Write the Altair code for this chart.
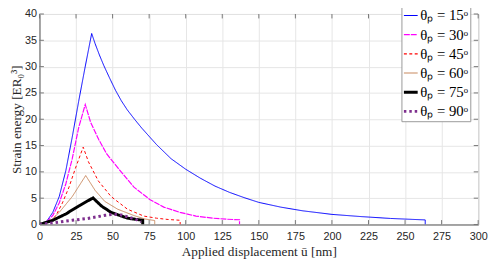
import altair as alt
import pandas as pd

# ---- data ----
x_ticks = list(range(0, 301, 25))
y_ticks = list(range(0, 41, 5))

labels = ["θₚ = 15ᵒ", "θₚ = 30ᵒ", "θₚ = 45ᵒ", "θₚ = 60ᵒ", "θₚ = 75ᵒ", "θₚ = 90ᵒ"]

blue_u = [0, 4.7, 9.1, 13.5, 18, 22.4, 26.8, 31, 35.7, 38, 41, 44, 48, 52, 56, 60, 65, 70, 80, 90, 100, 110, 120,
          130, 140, 150, 165, 180, 200, 220, 240, 255, 263.8, 263.8]
blue_E = [0, 0.5, 2.3, 5.3, 10.2, 16.6, 23.4, 29.6, 36.3, 34.4, 32.2, 30.2, 27.8, 25.5, 23.5, 21.8, 20.0, 18.3,
          15.2, 12.5, 10.5, 8.8, 7.3, 6.1, 5.1, 4.2, 3.3, 2.6, 1.92, 1.5, 1.15, 0.97, 0.87, 0]

mag_u = [0, 4.7, 9.1, 13.5, 18, 22.4, 26.8, 31.3, 35, 40.6, 46, 53.5, 64.6, 75.7, 85, 96.1, 107, 118.3, 128, 136.8, 136.8]
mag_E = [0, 0.5, 1.7, 4.1, 7.7, 12.5, 18.4, 22.8, 19.4, 16.1, 13.4, 10.8, 7.1, 4.7, 3.3, 2.3, 1.6, 1.2, 1.0, 0.9, 0]

red_u = [0, 6.9, 11.3, 15.7, 20.2, 24.6, 29.9, 33.5, 40.2, 49, 60.2, 71.3, 80, 88, 96.2, 96.2]
red_E = [0, 0.5, 1.7, 4.1, 7.1, 10.7, 14.7, 11.9, 8.3, 5.3, 2.9, 1.6, 1.2, 0.95, 0.8, 0]

brown_u = [0, 6.9, 13.5, 22.4, 31.6, 38, 44.6, 53.5, 64.6, 72, 78.8, 78.8]
brown_E = [0, 0.5, 2.3, 5.3, 9.3, 6.5, 4.4, 2.9, 1.7, 1.05, 0.75, 0]

black_u = [0, 9.1, 18, 26.8, 36.6, 42.4, 49, 60.2, 70.6, 70.6]
black_E = [0, 0.8, 2.0, 3.5, 5.05, 3.5, 2.3, 1.2, 0.8, 0]

purple_u = [0, 9.1, 22.4, 33, 40.2, 45, 51, 56, 61, 66, 69.5]
purple_E = [0, 0.3, 0.8, 1.15, 1.5, 1.75, 1.95, 1.8, 1.4, 0.95, 0.5]

# ---- styles ----
colors = ["#0000ff", "#ff00ff", "#ff0000", "#c8895f", "#000000", "#7e2f8e"]
dashes = [[1, 0], [6, 1], [3, 2.5], [1, 0], [1, 0], [2.5, 3]]
widths = [1, 1.2, 1, 1, 3, 3]

series = [(blue_u, blue_E), (mag_u, mag_E), (red_u, red_E),
          (brown_u, brown_E), (black_u, black_E), (purple_u, purple_E)]
rows = []
for lab, w, (us, es) in zip(labels, widths, series):
    for i, (u, e) in enumerate(zip(us, es)):
        rows.append({"u": u, "E": e, "s": lab, "w": w, "i": i})
df = pd.DataFrame(rows)

W, H = 446, 214
axis_col = "#777777"
TL = 4.5

xs = alt.Scale(domain=[0, 300], nice=False)
ys = alt.Scale(domain=[0, 40], nice=False)
x_axis = alt.Axis(values=x_ticks, title="Applied displacement ū [nm]")
y_axis = alt.Axis(values=y_ticks, title="Strain energy [ER₀³]")

width_sig = "indexof(['" + "','".join(labels) + "'], datum.value) >= 4 ? 3 : 1.2"

lines = alt.Chart(df).mark_line(clip=True).encode(
    x=alt.X("u:Q", scale=xs, axis=x_axis),
    y=alt.Y("E:Q", scale=ys, axis=y_axis),
    color=alt.Color("s:N", scale=alt.Scale(domain=labels, range=colors), title=None),
    strokeDash=alt.StrokeDash("s:N", scale=alt.Scale(domain=labels, range=dashes), title=None),
    strokeWidth=alt.StrokeWidth("w:Q", scale=None, legend=None),
    order=alt.Order("i:Q"),
)

xt = pd.DataFrame({"t": x_ticks})
yt = pd.DataFrame({"t": y_ticks})
bt = alt.Chart(xt).mark_rule(color=axis_col, strokeWidth=1).encode(
    x=alt.X("t:Q", scale=xs, axis=x_axis), y=alt.value(H - TL), y2=alt.value(H))
tt = alt.Chart(xt).mark_rule(color=axis_col, strokeWidth=1).encode(
    x=alt.X("t:Q", scale=xs, axis=x_axis), y=alt.value(0), y2=alt.value(TL))
lt = alt.Chart(yt).mark_rule(color=axis_col, strokeWidth=1).encode(
    y=alt.Y("t:Q", scale=ys, axis=y_axis), x=alt.value(0), x2=alt.value(TL))
rt = alt.Chart(yt).mark_rule(color=axis_col, strokeWidth=1).encode(
    y=alt.Y("t:Q", scale=ys, axis=y_axis), x=alt.value(W - TL), x2=alt.value(W))

chart = alt.layer(lines, bt, tt, lt, rt).properties(
    width=W, height=H,
    autosize=alt.AutoSizeParams(type="none"),
    padding={"left": 32, "top": 4, "right": 10, "bottom": 34},
).configure_view(
    stroke=axis_col, strokeWidth=1
).configure_axis(
    grid=True, gridColor="#e6e6e6", gridWidth=1,
    domainColor=axis_col, tickSize=0, labelOverlap=False, labelFlush=False,
    labelFont="Liberation Sans", labelFontSize=11, labelColor="#262626",
    titleFont="Liberation Serif", titleFontSize=13.5, titleFontWeight="normal", titleColor="#262626",
    labelPadding=3,
).configure_axisX(
    labelPadding=6, titlePadding=4,
).configure_axisY(
    labelPadding=3, titlePadding=1,
).configure_legend(
    orient="none", legendX=368, legendY=-8,
    symbolType="stroke", symbolSize=196,
    symbolStrokeWidth=alt.ExprRef(expr=width_sig),
    labelFont="Liberation Serif", labelFontSize=15, labelColor="#000000",
    padding=2, rowPadding=3.5, labelOffset=2,
    strokeColor="#999999", fillColor="#ffffff",
)

chart.save("out.html", embed_options={"renderer": "svg", "actions": False})
